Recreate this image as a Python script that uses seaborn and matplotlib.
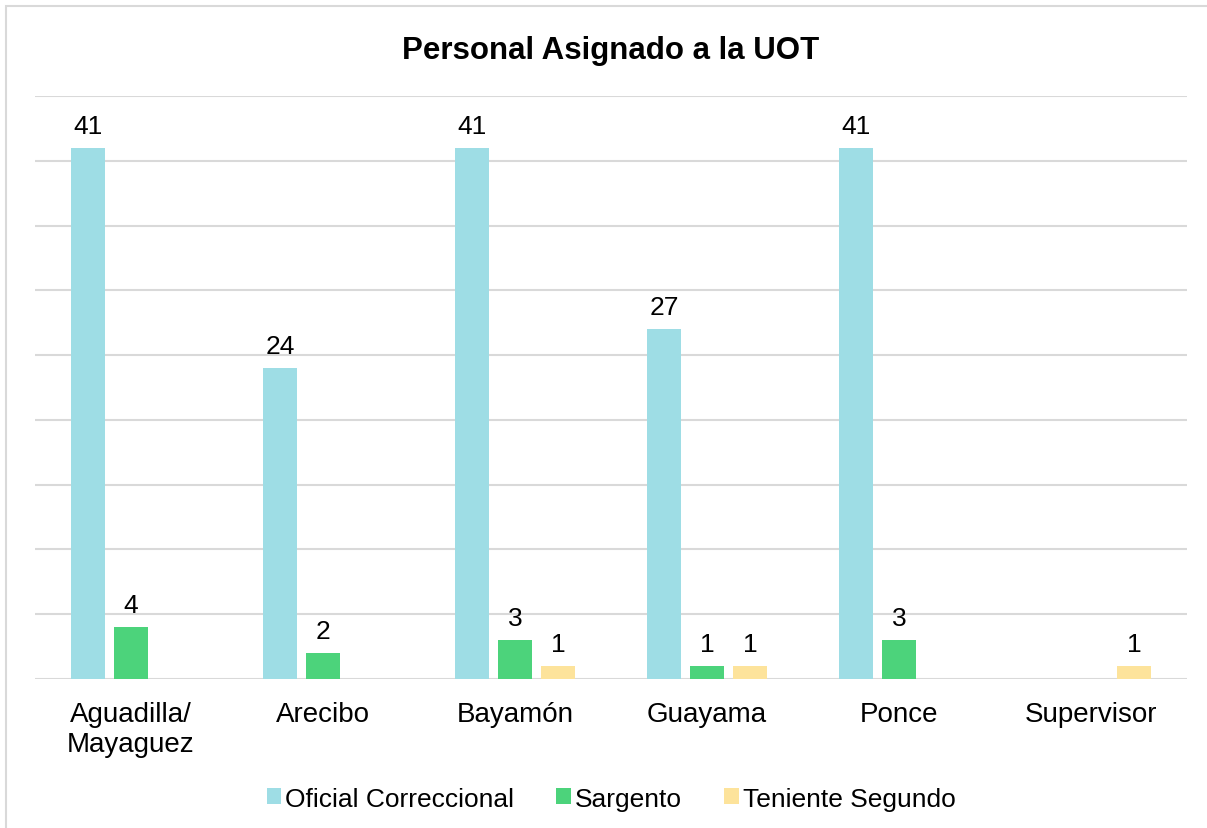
import pandas as pd
import matplotlib.pyplot as plt
import seaborn as sns
from matplotlib.patches import Rectangle

# datos
categorias = ['Aguadilla/\nMayaguez', 'Arecibo', 'Bayamón', 'Guayama', 'Ponce', 'Supervisor']
series = ['Oficial Correccional', 'Sargento', 'Teniente Segundo']
oficial = [41, 24, 41, 27, 41, 0]
sargento = [4, 2, 3, 1, 3, 0]
teniente = [0, 0, 1, 1, 0, 1]
colores = ['#9EDDE5', '#4CD37B', '#FDE39B']

rows = []
for serie, vals in zip(series, [oficial, sargento, teniente]):
    for cat, v in zip(categorias, vals):
        rows.append({'Categoria': cat, 'Serie': serie, 'Valor': v})
df = pd.DataFrame(rows)

sns.set_style('white')
plt.rcParams['font.family'] = ['Liberation Sans', 'DejaVu Sans']
plt.rcParams['text.color'] = 'black'
plt.rcParams['xtick.color'] = 'black'

fig = plt.figure(figsize=(12.07, 8.29), dpi=100)
ax = fig.add_axes([0.029, 0.1797, 0.9544, 0.7033])

sns.barplot(data=df, x='Categoria', y='Valor', hue='Serie', order=categorias,
            hue_order=series, palette=colores, width=0.67, gap=0.21,
            saturation=1, linewidth=0, ax=ax, legend=True)

for cont, vals in zip(ax.containers, [oficial, sargento, teniente]):
    labels = [str(v) if v else '' for v in vals]
    ax.bar_label(cont, labels=labels, padding=7, fontsize=19, color='black')

ax.set_ylim(0, 45)
ax.set_xlim(-0.5, 5.5)
ax.set_yticks(range(0, 46, 5))
ax.set_yticklabels([])
ax.yaxis.grid(True, color='#D9D9D9', linewidth=1.5)
ax.set_axisbelow(True)
for s in ['top', 'right', 'left', 'bottom']:
    ax.spines[s].set_visible(False)
ax.tick_params(axis='x', length=0, pad=16, labelsize=20, colors='black')
ax.tick_params(axis='y', length=0)
ax.set_xlabel('')
ax.set_ylabel('')

ax.set_title('Personal Asignado a la UOT', fontsize=22.5, fontweight='bold',
             pad=27, color='black')

handles, labs = ax.get_legend_handles_labels()
ax.legend(handles, labs, loc='center', bbox_to_anchor=(0.5, -0.205), ncol=3,
          frameon=False, fontsize=19, handlelength=0.55, handleheight=0.55,
          handletextpad=0.15, columnspacing=1.6)

fig.patches.append(Rectangle((6 / 1207, -0.1), 1.2, 1 - 7 / 829 + 0.1,
                             transform=fig.transFigure, fill=False,
                             edgecolor='#D9D9D9', linewidth=1.5))

plt.savefig('out.png', dpi=100)
